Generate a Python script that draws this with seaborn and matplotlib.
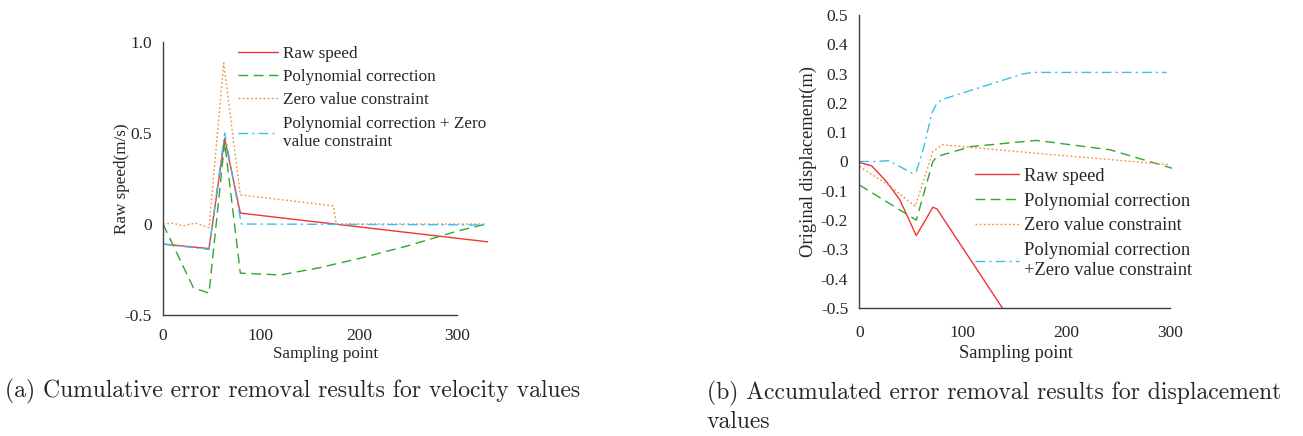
import numpy as np
import pandas as pd
import seaborn as sns
import matplotlib.pyplot as plt

sns.set_style('white')
plt.rcParams['font.family'] = ['Liberation Serif', 'DejaVu Serif']
plt.rcParams['axes.unicode_minus'] = False

series_names = ['Raw speed', 'Polynomial correction', 'Zero value constraint', 'Poly+Zero']
legend_a = ['Raw speed', 'Polynomial correction', 'Zero value constraint',
            'Polynomial correction + Zero\nvalue constraint']
legend_b = ['Raw speed', 'Polynomial correction', 'Zero value constraint',
            'Polynomial correction\n+Zero value constraint']

#---------------- (a) velocity ----------------#
a_raw_x = [0, 47, 63, 79, 332]
a_raw_y = [-0.11, -0.135, 0.47, 0.06, -0.098]
a_poly_x = [0, 15, 31, 47, 63, 79, 120, 160, 200, 250, 300, 330]
a_poly_y = [0, -0.17, -0.35, -0.38, 0.45, -0.27, -0.28, -0.24, -0.19, -0.12, -0.04, 0]
a_zero_x = [0, 10, 20, 33, 47, 62, 79, 174, 177, 330]
a_zero_y = [0, 0.005, -0.01, 0.005, -0.02, 0.885, 0.16, 0.10, 0, 0]
a_both_x = [0, 47, 63, 80, 330]
a_both_y = [-0.11, -0.14, 0.5, 0, -0.005]

#---------------- (b) displacement ----------------#
b_raw_x = [0, 12, 26, 39, 55, 63, 71, 75, 140]
b_raw_y = [-0.003, -0.015, -0.068, -0.13, -0.253, -0.205, -0.156, -0.162, -0.51]
b_poly_x = [0, 55, 71, 75, 108, 171, 242, 302]
b_poly_y = [-0.08, -0.2, 0, 0.017, 0.051, 0.072, 0.04, -0.023]
b_zero_x = [0, 30, 54, 71, 80, 171, 300]
b_zero_y = [-0.017, -0.085, -0.153, 0.034, 0.057, 0.028, -0.011]
b_both_x = [0, 17, 28, 39, 51, 55, 62, 70, 75, 81, 158, 168, 297]
b_both_y = [0, 0, 0.003, -0.017, -0.04, -0.034, 0.045, 0.165, 0.2, 0.213, 0.299, 0.304, 0.304]

a_yticks = [-0.5, 0, 0.5, 1.0]
a_yticklabels = ['-0.5', '0', '0.5', '1.0']
b_yticks = [-0.5, -0.4, -0.3, -0.2, -0.1, 0, 0.1, 0.2, 0.3, 0.4, 0.5]
b_yticklabels = ['-0.5', '-0.4', '-0.3', '-0.2', '-0.1', '0', '0.1', '0.2', '0.3', '0.4', '0.5']
xticks = [0, 100, 200, 300]

colors = {'Raw speed': '#f03434', 'Polynomial correction': '#2ea82e',
          'Zero value constraint': '#f39140', 'Poly+Zero': '#3cbfe8'}
dashes = {'Raw speed': '', 'Polynomial correction': (7, 4),
          'Zero value constraint': (1.3, 1.7), 'Poly+Zero': (7, 3, 1.5, 3)}


def make_df(xs, ys):
    parts = []
    for name, x, y in zip(series_names, xs, ys):
        parts.append(pd.DataFrame({'x': x, 'y': y, 'series': name}))
    return pd.concat(parts, ignore_index=True)


df_a = make_df([a_raw_x, a_poly_x, a_zero_x, a_both_x], [a_raw_y, a_poly_y, a_zero_y, a_both_y])
df_b = make_df([b_raw_x, b_poly_x, b_zero_x, b_both_x], [b_raw_y, b_poly_y, b_zero_y, b_both_y])

fig = plt.figure(figsize=(13.03, 4.36), dpi=100)
ax1 = fig.add_axes([0.1251, 0.2775, 0.2494, 0.6261])
ax2 = fig.add_axes([0.6595, 0.2936, 0.2408, 0.6720])


def draw(ax, df, xlim, ylim, yticks, yticklabels, ylabel, labels, legend_loc,
         xpad, ypad, xlabelpad, ylabelpad, fs, legfs, lspace):
    sns.lineplot(data=df, x='x', y='y', hue='series', style='series', palette=colors,
                 dashes=dashes, hue_order=series_names, style_order=series_names,
                 estimator=None, sort=False, linewidth=1.0, legend=False, ax=ax)
    ax.set_xlim(xlim)
    ax.set_ylim(ylim)
    ax.set_xticks(xticks)
    ax.set_xticklabels([str(t) for t in xticks])
    ax.set_yticks(yticks)
    ax.set_yticklabels(yticklabels)
    ax.set_xlabel('Sampling point', fontsize=fs, labelpad=xlabelpad)
    ax.set_ylabel(ylabel, fontsize=fs, labelpad=ylabelpad)
    ax.spines['top'].set_visible(False)
    ax.spines['right'].set_visible(False)
    for s in ['left', 'bottom']:
        ax.spines[s].set_color('#404040')
        ax.spines[s].set_linewidth(1.0)
    ax.spines['bottom'].set_bounds(0, 300)
    ax.tick_params(axis='x', direction='in', length=4, width=1.0, color='#404040',
                   labelsize=12.5, pad=xpad)
    ax.tick_params(axis='y', direction='in', length=4, width=1.0, color='#404040',
                   labelsize=12.5, pad=ypad)
    ax.legend(ax.get_lines()[:4], labels, loc='upper left', bbox_to_anchor=legend_loc,
              frameon=False, fontsize=legfs, handlelength=2.35, handletextpad=0.3,
              labelspacing=lspace, borderaxespad=0, borderpad=0)


draw(ax1, df_a, (0, 332), (-0.5, 1.0), a_yticks, a_yticklabels, 'Raw speed(m/s)',
     legend_a, (0.23, 0.985), 9, 8, 2, -4, 12.3, 12.3, 0.42)
draw(ax2, df_b, (0, 303), (-0.5, 0.5), b_yticks, b_yticklabels, 'Original displacement(m)',
     legend_b, (0.37, 0.478), 12, 8, 3, 3, 13.3, 13.3, 0.42)

fig.text(5 / 1303, 1 - 391 / 436, '(a) Cumulative error removal results for velocity values',
         family='cmr10', fontsize=17, va='center', ha='left')
fig.text(707 / 1303, 1 - 393 / 436, '(b) Accumulated error removal results for displacement',
         family='cmr10', fontsize=17, va='center', ha='left')
fig.text(707 / 1303, 1 - 422 / 436, 'values',
         family='cmr10', fontsize=17, va='center', ha='left')

plt.savefig('out.png', dpi=100)
